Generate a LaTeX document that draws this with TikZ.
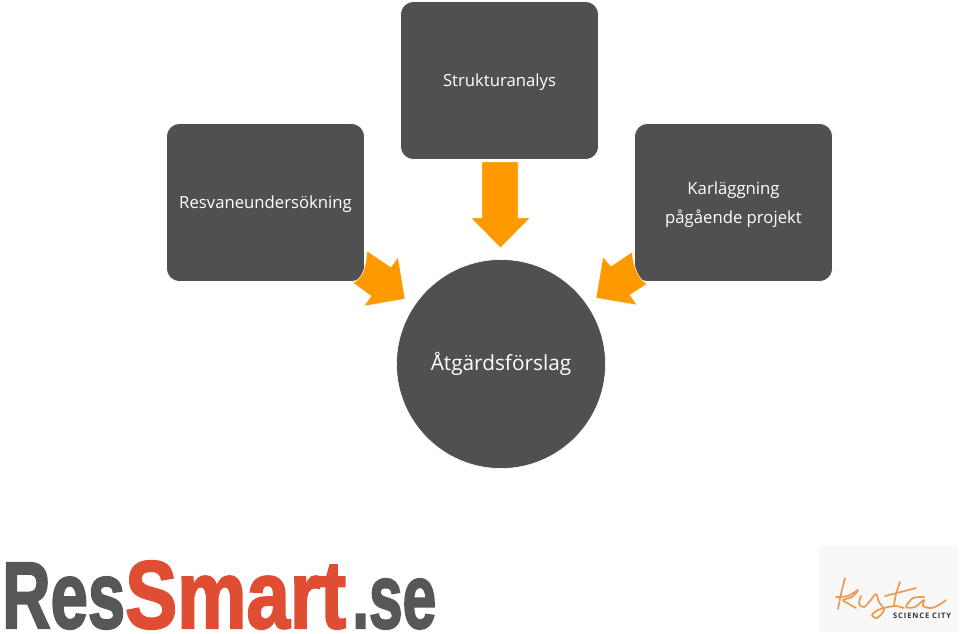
\documentclass[tikz,border=0pt]{standalone}
\usepackage{tikz}
\usepackage{xcolor}
\usepackage{graphicx}
\usepackage{fontspec}
\setmainfont{Open Sans}
\newfontfamily\logofont[FakeBold=2.5]{Liberation Sans Bold}
\newfontfamily\cityfont[LetterSpace=12]{Open Sans Bold}
\begin{document}
\begin{tikzpicture}[x=1pt,y=-1pt,
  mybox/.style={rectangle,rounded corners=13,minimum width=198,minimum height=158,fill=boxgray,draw=white,line width=.6,text=white,font=\fontsize{16.7}{29}\selectfont,align=center},
  mycircle/.style={circle,minimum size=209,inner sep=0,fill=boxgray,draw=white,line width=.6,text=white,font=\fontsize{20.8}{26}\selectfont},
  myarrow/.style={fill=arroworange,draw=white,line width=.4},
  logoword/.style={inner sep=0,anchor=base west,font=\logofont\fontsize{60}{60}\selectfont},
  kistaline/.style={draw=kistaorange,line width=1.7,line cap=round,line join=round}]
\definecolor{boxgray}{HTML}{505050}
\definecolor{arroworange}{HTML}{FF9900}
\definecolor{logogray}{HTML}{555759}
\definecolor{logored}{HTML}{DF4E33}
\definecolor{kistaorange}{HTML}{EE9A4D}
\definecolor{kistaback}{HTML}{F8F8F8}
\useasboundingbox (0,0) rectangle (960,633);
\foreach \nm/\xpos/\ypos/\txt in {struktur/499.5/80.5/Strukturanalys,resvane/265.5/202.5/Resvaneundersökning,karl/733.5/202.5/{Karläggning\\pågående projekt}}
  {\node [mybox] (\nm) at (\xpos,\ypos) {\rule{0pt}{16pt}\txt};}
\node [mycircle] (atgard) at (501,364) {Åtgärdsförslag};
\draw [myarrow] (482,162) -- (518,162) -- (518,218) -- (530,218) -- (500.5,248) -- (471,218) -- (482,218) -- cycle;
\draw [myarrow] (367,251) -- (391,267) -- (398,257) -- (405,299) -- (364,306) -- (371,296) -- (353,283) .. controls (361,279) and (366,270) .. cycle;
\draw [myarrow] (632,252) -- (611,266) -- (603,257) -- (596,298) -- (637,305) -- (630,295) -- (647,284) .. controls (639,279) and (634,270) .. cycle;
% logos
\node [logoword,text=logogray] (res) at (2,628) {\resizebox{123pt}{65pt}{Res}};
\node [logoword,text=logored] (smart) at (125,628) {\resizebox{221pt}{67pt}{Smart}};
\node [logoword,text=logogray] (se) at (352,628) {\resizebox{84pt}{49pt}{.se}};
\fill [kistaback] (819,546) rectangle (958,632);
\draw [kistaline] plot [smooth] coordinates {(845,578) (841,594) (838,609)};
\draw [kistaline] plot [smooth] coordinates {(836,597) (848,596) (858,590) (852,597) (843,600) (849,604) (856,608)};
\draw [kistaline] plot [smooth] coordinates {(861,596) (859,604) (864,607) (870,601) (876,594) (879,602) (884,610) (877,618) (872,615) (878,610) (888,607) (896,606) (904,608)};
\draw [kistaline] plot [smooth] coordinates {(900,582) (896,594) (894,605)};
\draw [kistaline] (885,596) -- (916,588);
\draw [kistaline] plot [smooth] coordinates {(924,597) (913,598) (906,607) (915,607) (924,600) (923,606) (931,608) (939,605) (946,600)};
\node [inner sep=0,anchor=west,text=black!80,font=\cityfont\fontsize{7.5}{8}\selectfont] (city) at (893,615.5) {SCIENCE CITY};
\end{tikzpicture}
\end{document}
